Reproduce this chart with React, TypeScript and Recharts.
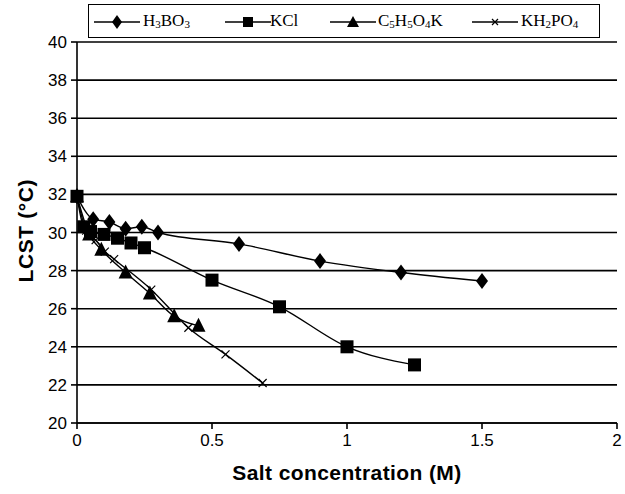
import React from "react"
import {
  LineChart,
  Line,
  XAxis,
  YAxis,
  CartesianGrid,
} from "recharts"

// salt concentration (M) vs LCST (°C)
const h3bo3X = [0, 0.06, 0.12, 0.18, 0.24, 0.3, 0.6, 0.9, 1.2, 1.5]
const h3bo3Y = [31.9, 30.7, 30.55, 30.2, 30.3, 30.0, 29.4, 28.5, 27.9, 27.45]

const kclX = [0, 0.025, 0.05, 0.1, 0.15, 0.2, 0.25, 0.5, 0.75, 1.0, 1.25]
const kclY = [31.9, 30.3, 30.05, 29.9, 29.7, 29.45, 29.2, 27.5, 26.1, 24.0, 23.05]

const c5X = [0, 0.045, 0.09, 0.18, 0.27, 0.36, 0.45]
const c5Y = [31.9, 29.9, 29.1, 27.9, 26.8, 25.6, 25.1]

const kh2po4X = [0, 0.034, 0.069, 0.103, 0.1375, 0.275, 0.4125, 0.55, 0.6875]
const kh2po4Y = [31.9, 30.1, 29.6, 29.0, 28.6, 27.0, 25.0, 23.6, 22.1]

const xTicks = [0, 0.5, 1, 1.5, 2]
const yTicks = [20, 22, 24, 26, 28, 30, 32, 34, 36, 38, 40]

const toRows = (xs: number[], ys: number[]) =>
  xs.map((x, i) => ({ x, y: ys[i] }))

const diamond = (p: any) => (
  <path
    key={`d-${p.index}`}
    d={`M${p.cx},${p.cy - 8}L${p.cx + 6},${p.cy}L${p.cx},${p.cy + 8}L${p.cx - 6},${p.cy}Z`}
    fill="#000"
  />
)
const square = (p: any) => (
  <rect key={`s-${p.index}`} x={p.cx - 6.5} y={p.cy - 6.5} width={13} height={13} fill="#000" />
)
const triangle = (p: any) => (
  <path
    key={`t-${p.index}`}
    d={`M${p.cx},${p.cy - 8}L${p.cx + 7},${p.cy + 6}L${p.cx - 7},${p.cy + 6}Z`}
    fill="#000"
  />
)
const cross = (p: any) => (
  <path
    key={`c-${p.index}`}
    d={`M${p.cx - 4},${p.cy - 4}L${p.cx + 4},${p.cy + 4}M${p.cx + 4},${p.cy - 4}L${p.cx - 4},${p.cy + 4}`}
    stroke="#000"
    strokeWidth={1.2}
    fill="none"
  />
)

const sans = "Liberation Sans, Arial, sans-serif"
const tickStyle = { fill: "#000", fontSize: 17, fontFamily: sans }

function LegendMark({ kind }: { kind: string }) {
  return (
    <svg width={46} height={14} style={{ display: "block" }}>
      <line x1={0} y1={7} x2={46} y2={7} stroke="#000" strokeWidth={1.5} />
      {kind === "diamond" && <path d="M23,0L28,7L23,14L18,7Z" fill="#000" />}
      {kind === "square" && <rect x={18} y={2} width={10} height={10} fill="#000" />}
      {kind === "triangle" && <path d="M23,1L29,12L17,12Z" fill="#000" />}
      {kind === "cross" && (
        <path d="M20,4L26,10M26,4L20,10" stroke="#000" strokeWidth={1.2} />
      )}
    </svg>
  )
}

const sub = { fontSize: 11, verticalAlign: "-2px" }

const legendItems = [
  { kind: "diamond", lineLeft: 94, textLeft: 143, label: <>H<span style={sub}>3</span>BO<span style={sub}>3</span></> },
  { kind: "square", lineLeft: 225, textLeft: 270, label: <>KCl</> },
  { kind: "triangle", lineLeft: 330, textLeft: 378, label: <>C<span style={sub}>5</span>H<span style={sub}>5</span>O<span style={sub}>4</span>K</> },
  { kind: "cross", lineLeft: 472, textLeft: 521, label: <>KH<span style={sub}>2</span>PO<span style={sub}>4</span></> },
]

export default function App() {
  return (
    <div style={{ position: "relative", width: 625, height: 494, background: "#fff" }}>
      <style>{"body{margin:0}"}</style>
      <LineChart
        width={625}
        height={494}
        margin={{ top: 42, right: 8, left: 0, bottom: 0 }}
      >
        <CartesianGrid vertical={false} stroke="#000" strokeWidth={1.6} />
        <XAxis
          type="number"
          dataKey="x"
          domain={[0, 2]}
          ticks={xTicks}
          tickFormatter={(v) => String(v)}
          height={71}
          stroke="#000"
          strokeWidth={1.6}
          tickSize={6}
          tick={tickStyle}
          tickMargin={5}
          allowDuplicatedCategory={false}
          label={{
            value: "Salt concentration (M)",
            position: "insideBottom",
            offset: 14,
            fill: "#000",
            fontSize: 21,
            fontWeight: "bold",
            letterSpacing: 0.4,
            fontFamily: sans,
          }}
        />
        <YAxis
          type="number"
          dataKey="y"
          domain={[20, 40]}
          ticks={yTicks}
          width={77}
          stroke="#000"
          strokeWidth={1.6}
          tickSize={6}
          tickMargin={4}
          tick={tickStyle}
          label={{
            value: "LCST (°C)",
            angle: -90,
            position: "insideLeft",
            offset: 26,
            dy: 50,
            fill: "#000",
            fontSize: 21,
            fontWeight: "bold",
            letterSpacing: 0.6,
            fontFamily: sans,
          }}
        />
        <Line
          data={toRows(h3bo3X, h3bo3Y)}
          dataKey="y"
          type="monotone"
          stroke="#000"
          strokeWidth={1.4}
          dot={diamond}
          isAnimationActive={false}
        />
        <Line
          data={toRows(kclX, kclY)}
          dataKey="y"
          type="monotone"
          stroke="#000"
          strokeWidth={1.4}
          dot={square}
          isAnimationActive={false}
        />
        <Line
          data={toRows(c5X, c5Y)}
          dataKey="y"
          type="monotone"
          stroke="#000"
          strokeWidth={1.4}
          dot={triangle}
          isAnimationActive={false}
        />
        <Line
          data={toRows(kh2po4X, kh2po4Y)}
          dataKey="y"
          type="monotone"
          stroke="#000"
          strokeWidth={1.4}
          dot={cross}
          isAnimationActive={false}
        />
      </LineChart>
      <div
        style={{
          position: "absolute",
          left: 88,
          top: 4,
          width: 512,
          height: 34,
          border: "1.5px solid #000",
          boxSizing: "border-box",
          background: "#fff",
        }}
      />
      {legendItems.map((it) => (
        <React.Fragment key={it.kind}>
          <div style={{ position: "absolute", left: it.lineLeft, top: 15 }}>
            <LegendMark kind={it.kind} />
          </div>
          <div
            style={{
              position: "absolute",
              left: it.textLeft,
              top: 10,
              fontFamily: "Liberation Serif, Times New Roman, serif",
              fontSize: 17,
              lineHeight: "22px",
              whiteSpace: "nowrap",
            }}
          >
            {it.label}
          </div>
        </React.Fragment>
      ))}
    </div>
  )
}
